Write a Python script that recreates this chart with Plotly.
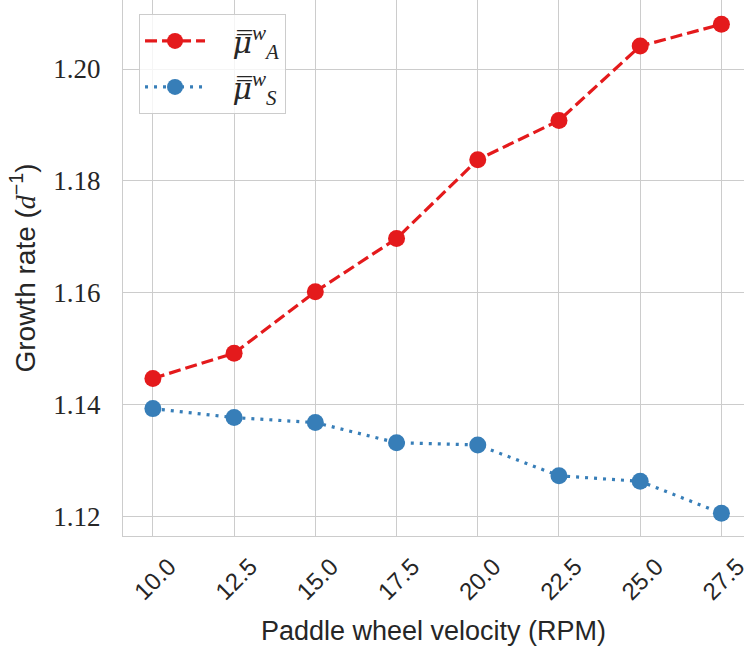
import plotly.graph_objects as go

# ---- data ----
rpm = [10.0, 12.5, 15.0, 17.5, 20.0, 22.5, 25.0, 27.5]
mu_A = [1.1447, 1.1492, 1.1602, 1.1697, 1.1838, 1.1908, 1.2041, 1.2080]
mu_S = [1.1393, 1.1377, 1.1368, 1.1332, 1.1328, 1.1273, 1.1263, 1.1206]
x_tick_vals = [10.0, 12.5, 15.0, 17.5, 20.0, 22.5, 25.0, 27.5]
x_tick_text = ["10.0", "12.5", "15.0", "17.5", "20.0", "22.5", "25.0", "27.5"]
y_tick_vals = [1.12, 1.14, 1.16, 1.18, 1.20]
y_tick_text = ["1.12", "1.14", "1.16", "1.18", "1.20"]

PAD = "&nbsp;&nbsp;&nbsp;"
MU = "<span style='font-family:DejaVu Serif'><i>μ̿</i></span>"
label_A = PAD + MU + "<sup><i>w</i></sup><sub><i>A</i></sub>"
label_S = PAD + MU + "<sup><i>w</i></sup><sub><i>S</i></sub>"

RED = "#e41a1c"
BLUE = "#377eb8"
TEXT = "#262626"
GRID = "#cccccc"
SERIF = "Liberation Serif, DejaVu Serif, serif"
SANS = "Liberation Sans, Lato, sans-serif"

fig = go.Figure()
fig.add_trace(go.Scatter(
    x=rpm, y=mu_A, name=label_A, mode="lines+markers", legendgroup="A",
    line=dict(color=RED, width=3.2, dash="12px,5px"),
    marker=dict(color=RED, size=17, symbol="circle"),
))
fig.add_trace(go.Scatter(
    x=rpm, y=mu_S, name=label_S, mode="lines+markers", legendgroup="S",
    line=dict(color=BLUE, width=3.2, dash="3px,6px"),
    marker=dict(color=BLUE, size=17, symbol="circle"),
))

fig.update_layout(
    width=744, height=652,
    margin=dict(l=123, r=0, t=0, b=116, autoexpand=False),
    paper_bgcolor="white", plot_bgcolor="white",
    showlegend=True,
    legend=dict(
        x=0.0258, y=0.974, xanchor="left", yanchor="top",
        bgcolor="rgba(255,255,255,0.8)", bordercolor=GRID, borderwidth=1,
        font=dict(family=SERIF, size=30, color=TEXT),
        itemwidth=60, tracegroupgap=4,
    ),
)

fig.update_xaxes(
    range=[9.080, 28.195], tickmode="array",
    tickvals=x_tick_vals, ticktext=x_tick_text, tickangle=-45,
    tickfont=dict(family=SANS, size=24, color=TEXT),
    ticklabelstandoff=6, ticklabelshift=16, ticklabeloverflow="allow",
    showgrid=True, gridcolor=GRID, gridwidth=1.2,
    showline=True, linecolor=GRID, linewidth=1.2, zeroline=False,
    ticks="", automargin=True,
    title=dict(text="Paddle wheel velocity (RPM)",
               font=dict(family=SANS, size=27, color=TEXT), standoff=17),
)
fig.update_yaxes(
    range=[1.11653, 1.21234], tickmode="array",
    tickvals=y_tick_vals, ticktext=y_tick_text,
    tickfont=dict(family=SERIF, size=27, color=TEXT),
    ticklabelstandoff=16,
    showgrid=True, gridcolor=GRID, gridwidth=1.2,
    showline=True, linecolor=GRID, linewidth=1.2, zeroline=False,
    ticks="", automargin=False,
    title=dict(text="Growth rate (<span style='font-family:Liberation Serif'><i>d</i></span><sup>−1</sup>)",
               font=dict(family=SANS, size=28, color=TEXT), standoff=9),
)

fig.write_html(
    "out.html",
    config={"displayModeBar": False},
    post_script="document.body.style.margin='0';document.body.style.padding='0';document.body.style.overflow='hidden';",
)
